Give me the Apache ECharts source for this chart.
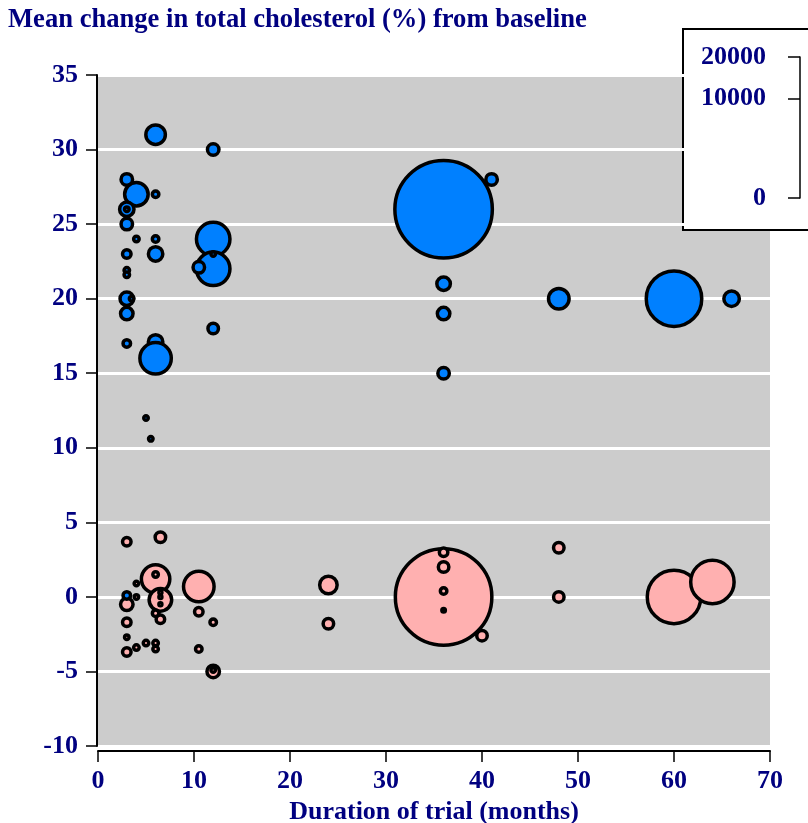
<!DOCTYPE html>
<html>
<head>
<meta charset="utf-8">
<script src="https://cdn.jsdelivr.net/npm/echarts@6/dist/echarts.min.js"></script>
<style>
  html, body { margin: 0; padding: 0; background: #ffffff; }
  #main { width: 808px; height: 823px; }
</style>
</head>
<body>
<div id="main"></div>
<script>
// trials: duration (months), mean change (%), sample size
let blueMonths = [36, 6, 12, 3, 4, 6, 3, 3, 3, 4, 6, 6, 3, 3, 3, 12, 12, 12, 10.5, 3, 3.5, 3, 12, 3, 6, 6, 5, 5.5, 41, 36, 36, 36, 48, 60, 66, 3];
let blueChange = [26, 31, 30, 28, 27, 27, 26, 26, 25, 24, 24, 23, 23, 21.9, 21.6, 24, 22, 23, 22.1, 20, 20, 19, 18, 17, 17.1, 16, 12, 10.6, 28, 21, 19, 15, 20, 20, 20, 0.1];
let blueSize = [10200, 530, 225, 225, 730, 100, 320, 64, 225, 81, 100, 320, 144, 81, 81, 1370, 1370, 64, 225, 290, 64, 256, 196, 121, 324, 1220, 64, 64, 225, 290, 256, 225, 580, 3480, 360, 121];

let pinkMonths = [36, 60, 64, 6, 6, 4, 3, 4, 6.5, 6.5, 6.5, 6.5, 10.5, 3, 6, 6.5, 3, 10.5, 12, 3, 4, 5, 6, 6, 3, 10.5, 12, 12, 6.5, 24, 24, 36, 36, 36, 36, 40, 48, 48];
let pinkChange = [0, 0, 1, 1.2, 1.5, 0.9, -0.5, 0, -0.2, 0.3, 0, -0.5, 0.7, 3.7, -1.1, -1.5, -1.7, -1, -1.7, -2.7, -3.4, -3.1, -3.1, -3.5, -3.7, -3.5, -5, -4.9, 4, 0.8, -1.8, 3, 2, 0.4, -0.9, -2.6, 3.3, 0];
let pinkSize = [10000, 3250, 2200, 1020, 81, 64, 256, 64, 680, 36, 36, 36, 1160, 144, 100, 144, 144, 144, 100, 64, 81, 81, 81, 81, 144, 100, 256, 64, 196, 440, 196, 144, 196, 100, 49, 196, 196, 196];

let xTicks = [0, 70, 10];
let yTicks = [-10, 35, 5];
let legendValues = [0, 10000, 20000];

let navy = '#000080';
let font = '"Liberation Serif", "DejaVu Serif", serif';

function pts(xs, ys, ns) {
    return xs.map(function (x, i) { return [x, ys[i], ns[i]]; });
}
function bubble(v) {
    return Math.max(Math.sqrt(v[2]) - 3.5, 3);
}

let myChart = echarts.init(document.getElementById('main'));
let option = {
    backgroundColor: '#ffffff',
    animation: false,
    title: {
        text: 'Mean change in total cholesterol (%) from baseline',
        left: 8,
        top: 7,
        padding: 0,
        textStyle: { color: navy, fontFamily: font, fontWeight: 'bold', fontSize: 26.6 }
    },
    graphic: [{
        type: 'rect',
        shape: { x: 683, y: 29, width: 140, height: 201 },
        style: { fill: '#ffffff', stroke: '#000000', lineWidth: 2 },
        z: 0
    }],
    grid: [
        {
            left: 98, right: 38, top: 75, bottom: 77,
            outerBoundsMode: 'none',
            show: true, backgroundColor: '#cccccc', borderWidth: 0
        },
        {
            left: 800, width: 2, top: 57, bottom: 823 - 198,
            outerBoundsMode: 'none',
            show: false
        }
    ],
    xAxis: [
        {
            type: 'value',
            min: xTicks[0], max: xTicks[1], interval: xTicks[2],
            offset: 5,
            name: 'Duration of trial (months)',
            nameLocation: 'middle',
            nameGap: 46,
            nameTextStyle: { color: navy, fontFamily: font, fontWeight: 'bold', fontSize: 26 },
            axisLine: { show: true, onZero: false, lineStyle: { color: '#000000', width: 2 } },
            axisTick: { show: true, length: 11, lineStyle: { color: '#000000', width: 1.5 } },
            axisLabel: { color: navy, fontFamily: font, fontWeight: 'bold', fontSize: 26, margin: 17 },
            splitLine: { show: false }
        },
        {
            gridIndex: 1, type: 'value', show: false, min: 0, max: 1
        }
    ],
    yAxis: [
        {
            type: 'value',
            min: yTicks[0], max: yTicks[1], interval: yTicks[2],
            offset: 1,
            axisLine: { show: true, onZero: false, lineStyle: { color: '#000000', width: 2 } },
            axisTick: { show: true, length: 11, lineStyle: { color: '#000000', width: 1.5 } },
            axisLabel: { color: navy, fontFamily: font, fontWeight: 'bold', fontSize: 26, margin: 19 },
            splitLine: { show: true, lineStyle: { color: '#ffffff', width: 3 } }
        },
        {
            gridIndex: 1,
            type: 'value',
            min: 0,
            max: Math.sqrt(legendValues[2]),
            axisLine: { show: true, lineStyle: { color: '#000000', width: 1.5 } },
            axisTick: {
                show: true, length: 12,
                customValues: legendValues.map(Math.sqrt),
                lineStyle: { color: '#000000', width: 1.5 }
            },
            axisLabel: {
                color: navy, fontFamily: font, fontWeight: 'bold', fontSize: 26, margin: 34,
                customValues: legendValues.map(Math.sqrt),
                formatter: function (v) { return String(Math.round(v * v / 10000) * 10000); }
            },
            splitLine: { show: false }
        }
    ],
    series: [
        {
            name: 'women',
            type: 'scatter',
            data: pts(pinkMonths, pinkChange, pinkSize),
            symbolSize: bubble,
            itemStyle: { color: '#ffb0b0', borderColor: '#000000', borderWidth: 3.5, opacity: 1 },
            z: 3
        },
        {
            name: 'men',
            type: 'scatter',
            data: pts(blueMonths, blueChange, blueSize),
            symbolSize: bubble,
            itemStyle: { color: '#0080ff', borderColor: '#000000', borderWidth: 3.5, opacity: 1 },
            z: 4
        }
    ]
};
myChart.setOption(option);
</script>
</body>
</html>
